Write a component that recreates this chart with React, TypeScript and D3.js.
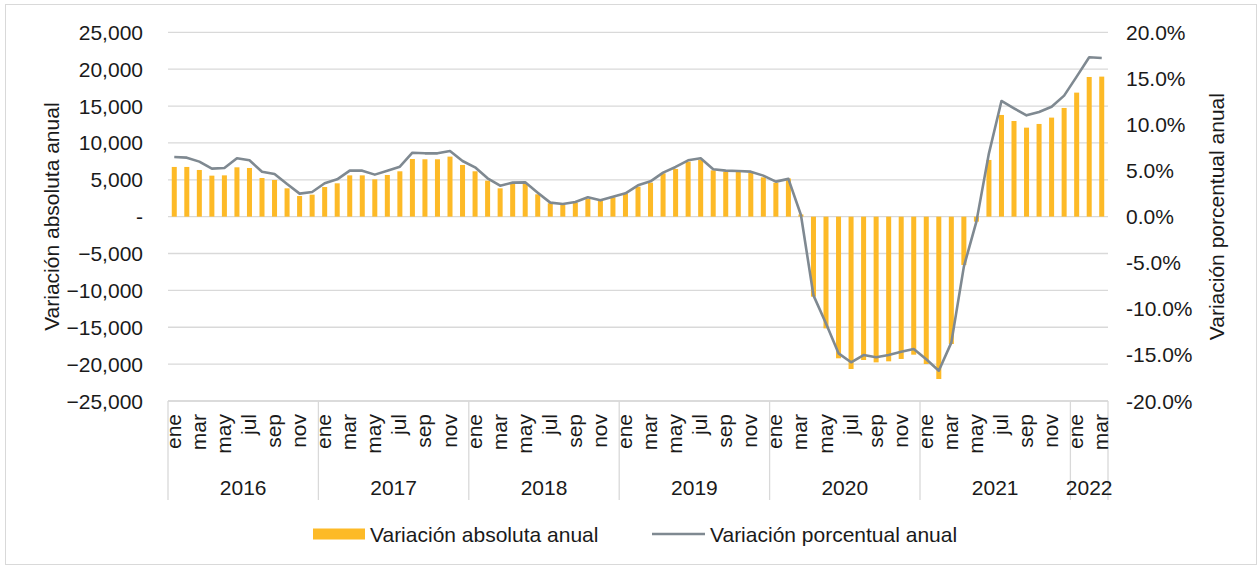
import React, { useEffect, useRef } from 'react';
import * as d3 from 'd3';

// Month labels (Spanish) and years on the category axis
const monthNames = ['ene', 'feb', 'mar', 'abr', 'may', 'jun', 'jul', 'ago', 'sep', 'oct', 'nov', 'dic'];
const years = ['2016', '2017', '2018', '2019', '2020', '2021', '2022'];
const monthsPerYear = [12, 12, 12, 12, 12, 12, 3];

// Variación absoluta anual (bars, left axis)
const absValues = [
  6740, 6740, 6330, 5560, 5600, 6690, 6600, 5240, 4970, 3840, 2800, 2980,
  4020, 4520, 5600, 5600, 5060, 5650, 6150, 7820, 7780, 7780, 8140, 7010,
  6150, 4880, 3840, 4430, 4520, 3030, 1810, 1580, 1900, 2400, 2120, 2620,
  3160, 4070, 4610, 5880, 6470, 7460, 7690, 6280, 6100, 6060, 5920, 5330,
  4610, 5180, 300, -10850, -15150, -19210, -20660, -19440, -19760, -19620, -19300, -18720,
  -19980, -22020, -17270, -6560, -680, 7690, 13790, 12970, 12070, 12570, 13430, 14740,
  16820, 18940, 18990,
];

// Variación porcentual anual (line, right axis), in percent
const pctValues = [
  6.47, 6.40, 5.97, 5.21, 5.28, 6.33, 6.11, 4.88, 4.63, 3.54, 2.50, 2.68,
  3.62, 4.05, 4.99, 4.99, 4.56, 4.99, 5.42, 6.94, 6.87, 6.87, 7.12, 6.04,
  5.35, 4.16, 3.36, 3.69, 3.72, 2.60, 1.52, 1.37, 1.59, 2.10, 1.77, 2.17,
  2.53, 3.40, 3.83, 4.77, 5.39, 6.11, 6.33, 5.14, 4.99, 4.95, 4.88, 4.45,
  3.80, 4.10, 0.18, -8.54, -11.6, -14.83, -15.80, -15.01, -15.26, -15.01, -14.65, -14.36,
  -15.48, -16.71, -13.67, -5.42, -0.54, 6.87, 12.55, 11.75, 10.99, 11.36, 11.93, 13.13,
  15.19, 17.29, 17.21,
];

const leftTicks = [25000, 20000, 15000, 10000, 5000, 0, -5000, -10000, -15000, -20000, -25000];
const rightTicks = [20, 15, 10, 5, 0, -5, -10, -15, -20];

const FONT = '"Liberation Sans", Arial, sans-serif';
const FONT_SIZE = 21;
const BAR_COLOR = '#FDBA27';
const LINE_COLOR = '#7F8991';
const GRID_COLOR = '#D9D9D9';
const TEXT_COLOR = '#1a1a1a';

const App = () => {
  const svgRef = useRef<SVGSVGElement>(null);

  useEffect(() => {
    if (!svgRef.current) return;
    const W = 1259;
    const H = 567;
    const plot = { left: 168, right: 1108, top: 32.3, bottom: 401 };

    const svg = d3.select(svgRef.current);
    svg.selectAll('*').remove();
    svg.attr('width', W).attr('height', H);

    // chart frame
    svg.append('rect')
      .attr('x', 5.5).attr('y', 4.5)
      .attr('width', 1251).attr('height', 560)
      .attr('fill', '#fff')
      .attr('stroke', GRID_COLOR);

    // categories: index per month
    const cats: { year: string; month: number }[] = [];
    years.forEach((y, yi) => {
      for (let m = 0; m < monthsPerYear[yi]; m++) cats.push({ year: y, month: m });
    });
    const idx = cats.map((_, i) => i);

    const x = d3.scaleBand<number>()
      .domain(idx)
      .range([plot.left, plot.right])
      .paddingInner(0.6)
      .paddingOuter(0.3);
    const step = x.step();
    const cx = (i: number) => (x(i) as number) + x.bandwidth() / 2;

    const yL = d3.scaleLinear().domain([-25000, 25000]).range([plot.bottom, plot.top]);
    const yR = d3.scaleLinear().domain([-20, 20]).range([plot.bottom, plot.top]);

    // gridlines
    svg.append('g')
      .selectAll('line')
      .data(leftTicks)
      .enter()
      .append('line')
      .attr('x1', plot.left).attr('x2', plot.right)
      .attr('y1', d => yL(d)).attr('y2', d => yL(d))
      .attr('stroke', GRID_COLOR)
      .attr('stroke-width', 1.3);

    // left tick labels
    const fmt = d3.format(',');
    svg.append('g')
      .selectAll('text')
      .data(leftTicks)
      .enter()
      .append('text')
      .attr('x', 143)
      .attr('y', d => yL(d))
      .attr('dy', '0.36em')
      .attr('text-anchor', 'end')
      .attr('font-family', FONT)
      .attr('font-size', FONT_SIZE)
      .attr('fill', TEXT_COLOR)
      .text(d => (d === 0 ? '-' : fmt(d)));

    // right tick labels
    svg.append('g')
      .selectAll('text')
      .data(rightTicks)
      .enter()
      .append('text')
      .attr('x', 1126)
      .attr('y', d => yR(d))
      .attr('dy', '0.36em')
      .attr('text-anchor', 'start')
      .attr('font-family', FONT)
      .attr('font-size', FONT_SIZE)
      .attr('fill', TEXT_COLOR)
      .text(d => `${d.toFixed(1)}%`);

    // axis titles
    svg.append('text')
      .attr('transform', `translate(51,${yL(0)}) rotate(-90)`)
      .attr('text-anchor', 'middle')
      .attr('dy', '0.36em')
      .attr('font-family', FONT)
      .attr('font-size', FONT_SIZE)
      .attr('fill', TEXT_COLOR)
      .text('Variación absoluta anual');

    svg.append('text')
      .attr('transform', `translate(1216,${yL(0)}) rotate(-90)`)
      .attr('text-anchor', 'middle')
      .attr('dy', '0.36em')
      .attr('font-family', FONT)
      .attr('font-size', FONT_SIZE)
      .attr('fill', TEXT_COLOR)
      .text('Variación porcentual anual');

    // bars
    svg.append('g')
      .selectAll('rect')
      .data(absValues)
      .enter()
      .append('rect')
      .attr('x', (_, i) => x(i) as number)
      .attr('y', d => yL(Math.max(0, d)))
      .attr('width', x.bandwidth())
      .attr('height', d => Math.abs(yL(d) - yL(0)))
      .attr('fill', BAR_COLOR);

    // line
    const line = d3.line<number>()
      .x((_, i) => cx(i))
      .y(d => yR(d));
    svg.append('path')
      .datum(pctValues)
      .attr('d', line)
      .attr('fill', 'none')
      .attr('stroke', LINE_COLOR)
      .attr('stroke-width', 2.6)
      .attr('stroke-linejoin', 'round');

    // category axis: bottom line and year separators
    svg.append('line')
      .attr('x1', plot.left).attr('x2', plot.right)
      .attr('y1', plot.bottom).attr('y2', plot.bottom)
      .attr('stroke', GRID_COLOR)
      .attr('stroke-width', 1.3);

    let start = 0;
    const yearBounds: { year: string; from: number; to: number }[] = [];
    years.forEach((y, yi) => {
      yearBounds.push({ year: y, from: start, to: start + monthsPerYear[yi] });
      start += monthsPerYear[yi];
    });

    const sepX = yearBounds.map(b => plot.left + b.from * step).concat([plot.right]);
    svg.append('g')
      .selectAll('line')
      .data(sepX)
      .enter()
      .append('line')
      .attr('x1', d => d).attr('x2', d => d)
      .attr('y1', plot.bottom).attr('y2', 500)
      .attr('stroke', GRID_COLOR)
      .attr('stroke-width', 1.3);

    // month labels (every other month)
    svg.append('g')
      .selectAll('text')
      .data(cats.map((c, i) => ({ ...c, i })).filter(c => c.month % 2 === 0))
      .enter()
      .append('text')
      .attr('transform', d => `translate(${cx(d.i) + 6.5},414) rotate(-90)`)
      .attr('text-anchor', 'end')
      .attr('font-family', FONT)
      .attr('font-size', FONT_SIZE)
      .attr('fill', TEXT_COLOR)
      .text(d => monthNames[d.month]);

    // year labels
    svg.append('g')
      .selectAll('text')
      .data(yearBounds)
      .enter()
      .append('text')
      .attr('x', d => plot.left + ((d.from + d.to) / 2) * step)
      .attr('y', 495)
      .attr('text-anchor', 'middle')
      .attr('font-family', FONT)
      .attr('font-size', FONT_SIZE)
      .attr('fill', TEXT_COLOR)
      .text(d => d.year);

    // legend
    const legend = svg.append('g');
    legend.append('rect')
      .attr('x', 313).attr('y', 528.5)
      .attr('width', 52).attr('height', 11)
      .attr('fill', BAR_COLOR);
    legend.append('text')
      .attr('x', 370).attr('y', 534)
      .attr('dy', '0.36em')
      .attr('font-family', FONT)
      .attr('font-size', FONT_SIZE)
      .attr('fill', TEXT_COLOR)
      .text('Variación absoluta anual');
    legend.append('line')
      .attr('x1', 652).attr('x2', 705)
      .attr('y1', 534).attr('y2', 534)
      .attr('stroke', LINE_COLOR)
      .attr('stroke-width', 2.6);
    legend.append('text')
      .attr('x', 710).attr('y', 534)
      .attr('dy', '0.36em')
      .attr('font-family', FONT)
      .attr('font-size', FONT_SIZE)
      .attr('fill', TEXT_COLOR)
      .text('Variación porcentual anual');
  }, []);

  return (
    <svg
      ref={svgRef}
      style={{ position: 'absolute', left: 0, top: 0, display: 'block' }}
    />
  );
};

export default App;
